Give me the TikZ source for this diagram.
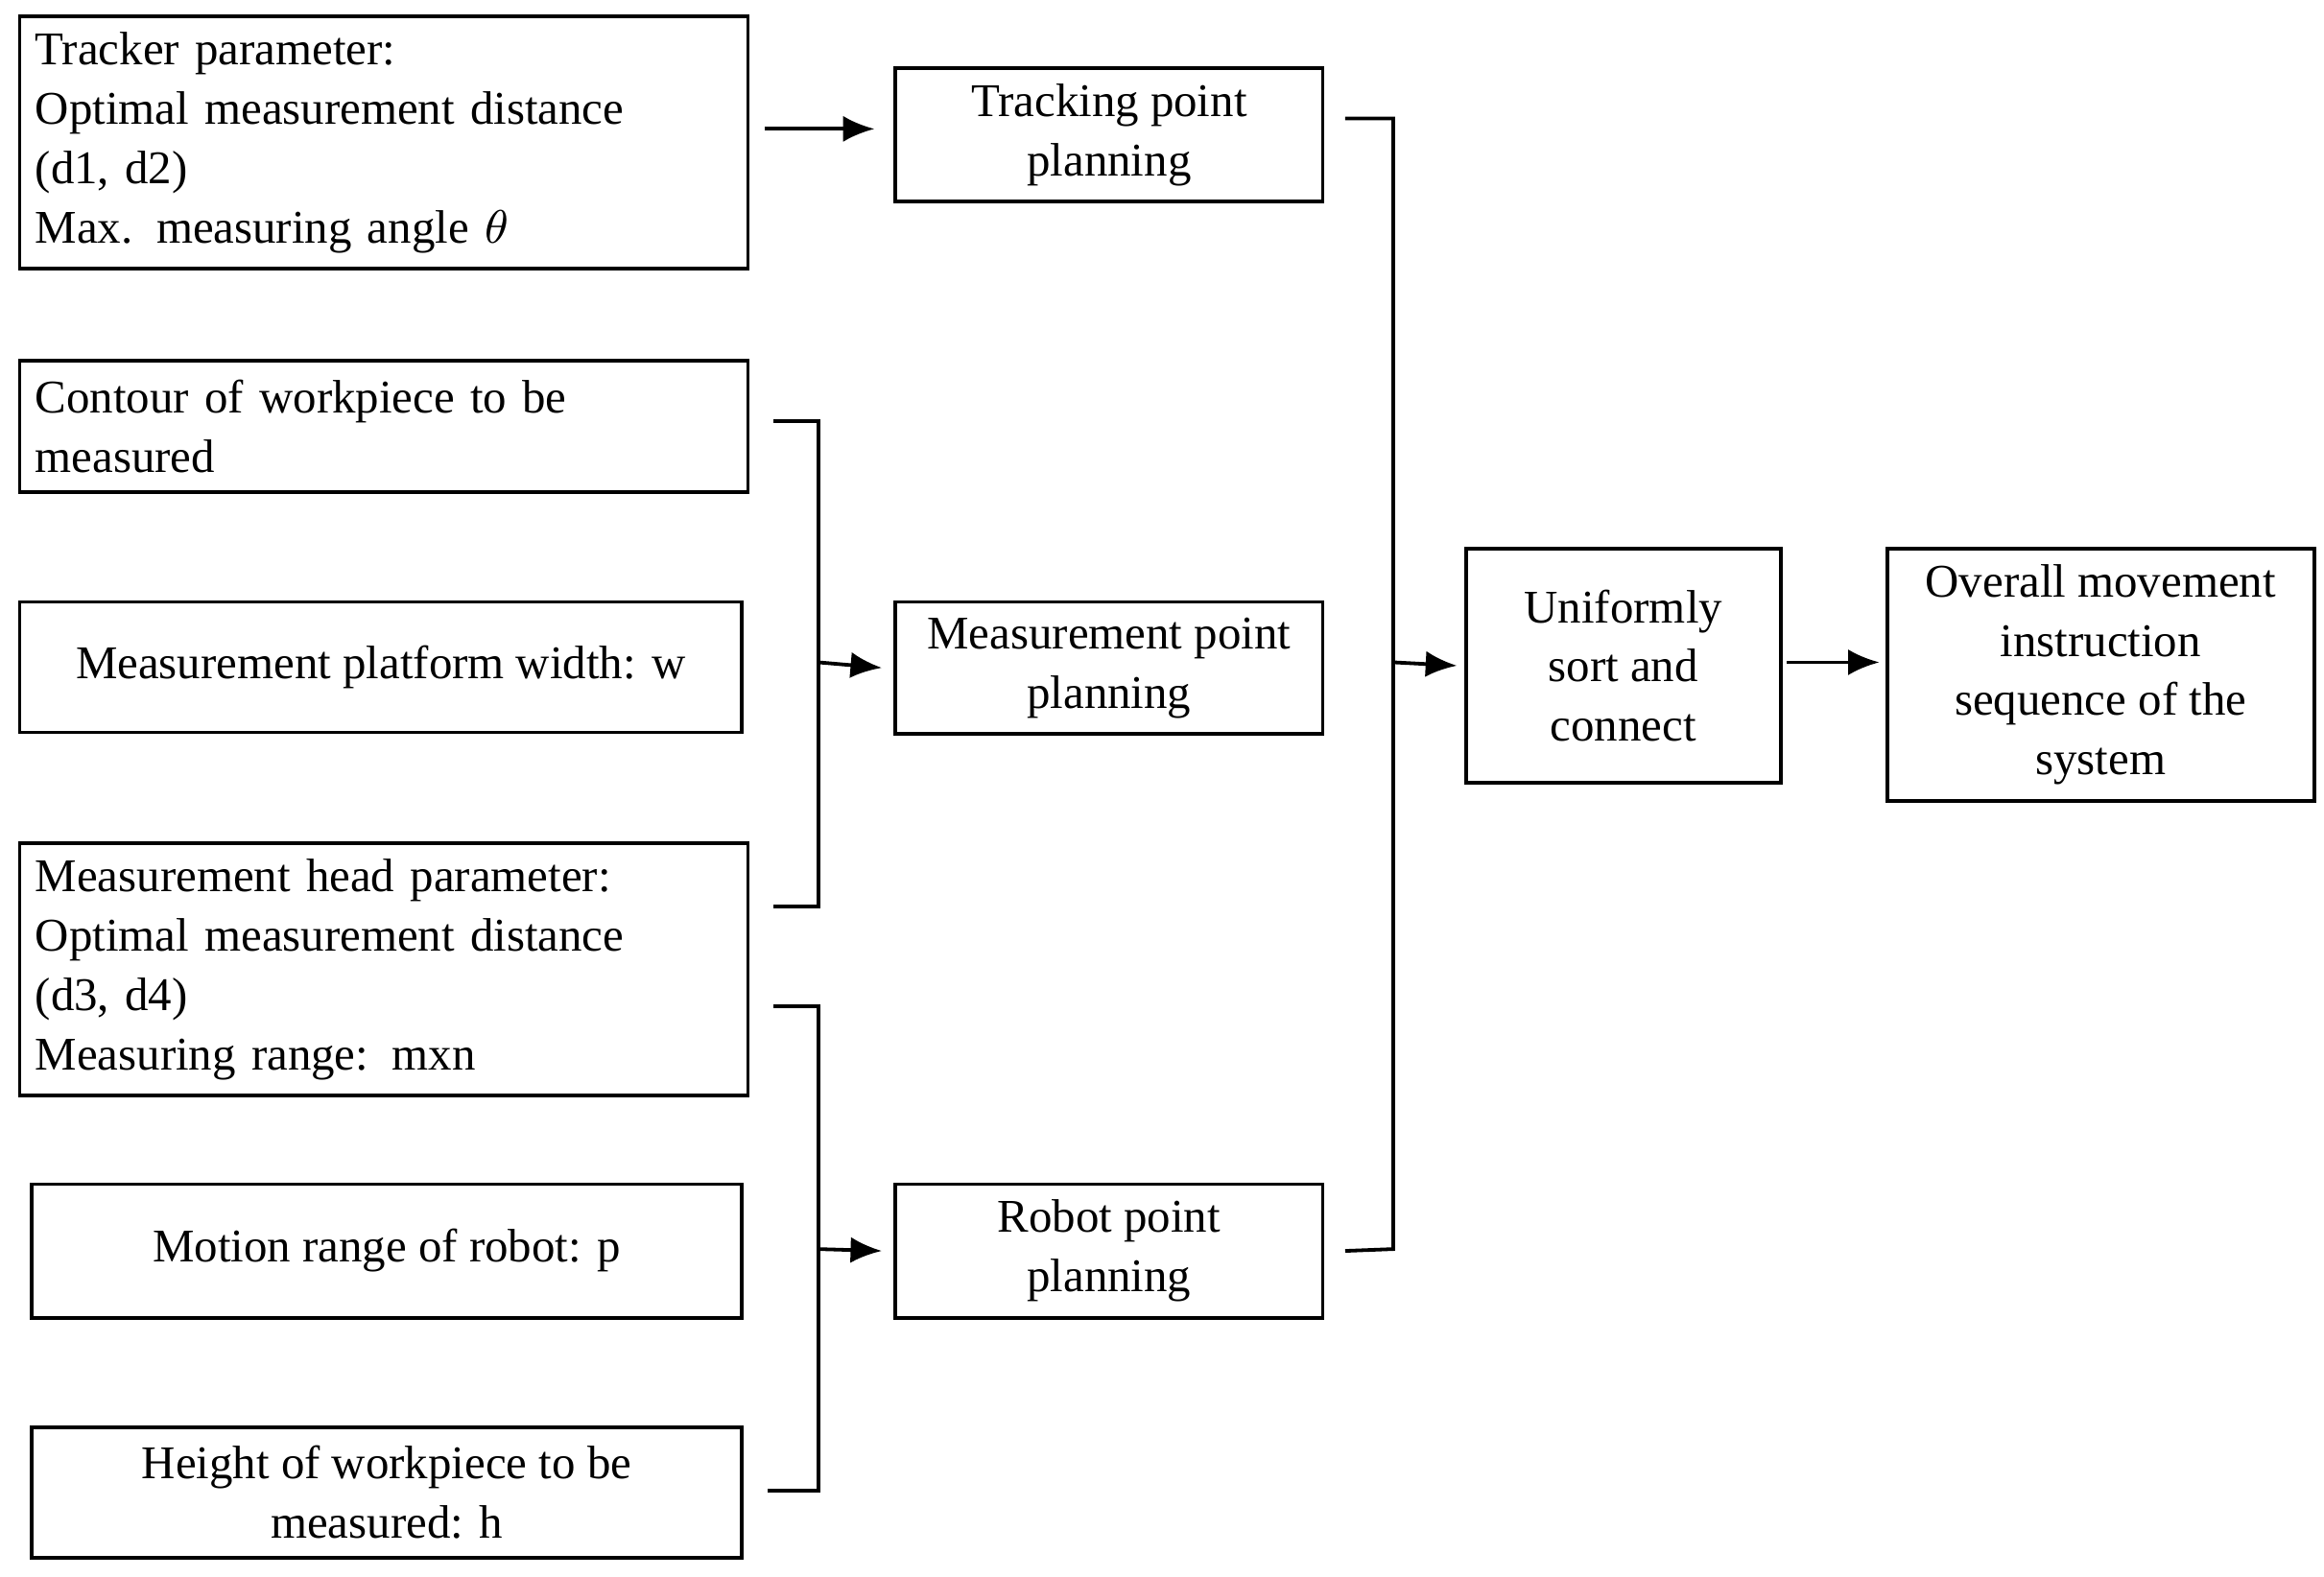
\documentclass[tikz,border=0pt]{standalone}
\usepackage{fontspec}
\setmainfont{Liberation Serif}
\usetikzlibrary{arrows.meta,positioning}
\tikzstyle{block} = [rectangle, draw, line width=0.7pt, inner sep=3pt, font=\fontsize{9}{11.4}\selectfont]
\tikzstyle{line} = [line width=0.7pt]
\tikzstyle{arr} = [line width=0.7pt, -{Latex[length=6pt,width=5pt]}]
\begin{document}
\begin{tikzpicture}[x=0.01cm, y=-0.01cm]
   \useasboundingbox (0,0) rectangle (1568,1064);
   % Place nodes
   \node [block, anchor=north west, minimum width=4.87cm, minimum height=1.57cm, text width=4.7cm, align=left] (track-par) at (12,10)
      {Tracker parameter:\\ Optimal measurement distance\\ (d1, d2)\\ Max. measuring angle $\theta$};
   \node [block, anchor=north west, minimum width=4.87cm, minimum height=0.89cm, text width=4.7cm, align=left] (contour) at (12,242)
      {Contour of workpiece to be\\ measured};
   \node [block, anchor=north west, minimum width=4.87cm, minimum height=0.88cm, align=center] (width) at (12,405)
      {Measurement platform width: w};
   \node [block, anchor=north west, minimum width=4.87cm, minimum height=1.58cm, text width=4.7cm, align=left] (head-par) at (12,568)
      {Measurement head parameter:\\ Optimal measurement distance\\ (d3, d4)\\ Measuring range: mxn};
   \node [block, anchor=north west, minimum width=4.79cm, minimum height=0.90cm, align=center] (motion) at (20,798)
      {Motion range of robot: p};
   \node [block, anchor=north west, minimum width=4.79cm, minimum height=0.88cm, align=center] (height) at (20,962)
      {Height of workpiece to be\\ measured: h};
   \node [block, anchor=north west, minimum width=2.88cm, minimum height=0.88cm, align=center] (track-pt) at (603,45)
      {Tracking point\\ planning};
   \node [block, anchor=north west, minimum width=2.88cm, minimum height=0.88cm, align=center] (meas-pt) at (603,405)
      {Measurement point\\ planning};
   \node [block, anchor=north west, minimum width=2.88cm, minimum height=0.90cm, align=center] (robot-pt) at (603,798)
      {Robot point\\ planning};
   \node [block, anchor=north west, minimum width=2.12cm, minimum height=1.58cm, align=center] (sort) at (988,369)
      {Uniformly\\ sort and\\ connect};
   \node [block, anchor=north west, minimum width=2.88cm, minimum height=1.58cm, align=center] (overall) at (1272,369)
      {Overall movement\\ instruction\\ sequence of the\\ system};
   % Connectors
   \draw[arr] ([xshift=0.10cm]track-par.east |- 0,87) -- ([xshift=-0.13cm]track-pt.west |- 0,87);
   \draw[line] ([xshift=0.16cm]contour.east |- 0,284) -| (552,612) -- ([xshift=0.16cm]head-par.east |- 0,612);
   \draw[arr] (552,447) -- ([xshift=-0.08cm]meas-pt.west);
   \draw[line] ([xshift=0.16cm]head-par.east |- 0,679) -| (552,1006) -- ([xshift=0.16cm]height.east |- 0,1006);
   \draw[arr] (552,843) -- ([xshift=-0.08cm]robot-pt.west);
   \draw[line] ([xshift=0.14cm]track-pt.east |- 0,80) -| (940,843) -- ([xshift=0.14cm]robot-pt.east);
   \draw[arr] (940,447) -- ([xshift=-0.05cm]sort.west);
   \draw[arr] ([xshift=0.03cm]sort.east |- 0,447) -- ([xshift=-0.04cm]overall.west |- 0,447);
\end{tikzpicture}
\end{document}
